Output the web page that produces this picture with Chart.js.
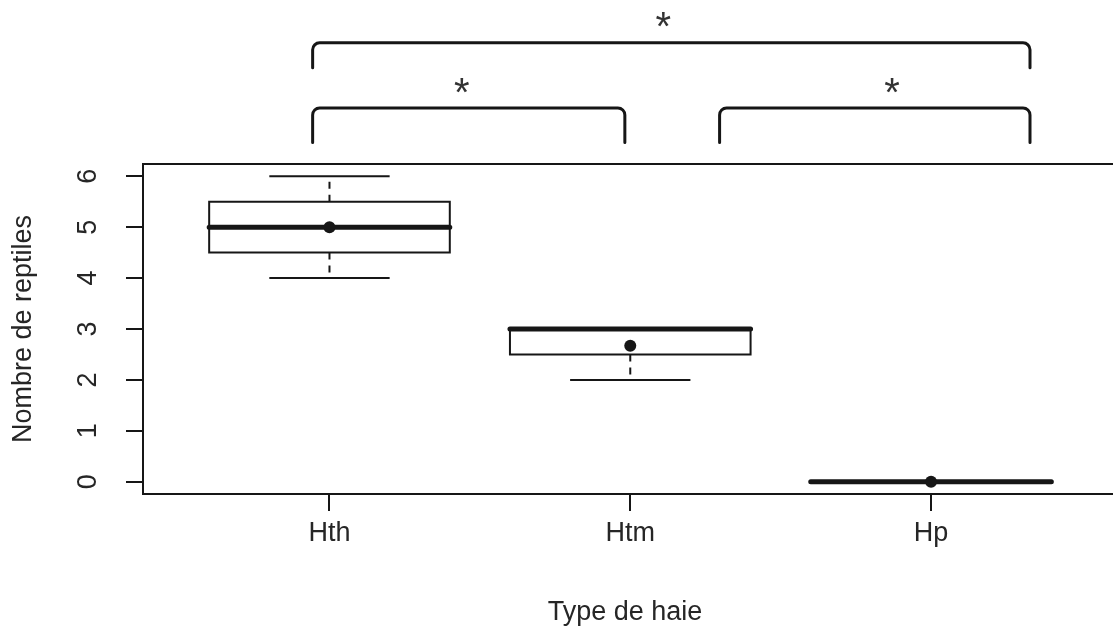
<!DOCTYPE html>
<html>
<head>
<meta charset="utf-8">
<title>Nombre de reptiles par type de haie</title>
<script src="https://cdn.jsdelivr.net/npm/chart.js"></script>
<style>
  html, body { margin: 0; padding: 0; background: #fff; }
  #wrap { width: 1113px; height: 630px; }
</style>
</head>
<body>
<div id="wrap"><canvas id="chart" width="1113" height="630"></canvas></div>
<script>
// Statistiques des boîtes
const categories = ['Hth', 'Htm', 'Hp'];
const whiskerLow = [4, 2, 0];
const q1 = [4.5, 2.5, 0];
const median = [5, 3, 0];
const q3 = [5.5, 3, 0];
const whiskerHigh = [6, 3, 0];
const means = [5, 2.67, 0];

const yTicks = [0, 1, 2, 3, 4, 5, 6];

// Crochets de comparaison (unités des axes, au-dessus du graphe)
const bracketFrom = [0.944, 0.944, 2.297];
const bracketTo = [3.329, 1.982, 3.329];
const bracketTop = [8.62, 7.34, 7.34];
const bracketLeg = [8.13, 6.66, 6.66];
const starText = ['*', '*', '*'];
const starX = [2.11, 1.44, 2.87];
const starY = [9.13, 7.84, 7.84];

const FONT = "'Liberation Sans', Arial, sans-serif";
const INK = '#161616';
const TEXT = '#262626';
const BOX_HALF = 0.4;
const CAP_HALF = 0.2;

// points des segments ; y: null coupe la ligne
const gap = x => ({ x, y: null });
const boxPts = [], whiskerPts = [], capPts = [], medianPts = [];
categories.forEach((c, i) => {
  const x = i + 1;
  boxPts.push(
    { x: x - BOX_HALF, y: q1[i] }, { x: x + BOX_HALF, y: q1[i] },
    { x: x + BOX_HALF, y: q3[i] }, { x: x - BOX_HALF, y: q3[i] },
    { x: x - BOX_HALF, y: q1[i] }, gap(x)
  );
  if (whiskerHigh[i] > q3[i]) whiskerPts.push({ x, y: q3[i] }, { x, y: whiskerHigh[i] }, gap(x));
  if (whiskerLow[i] < q1[i]) whiskerPts.push({ x, y: q1[i] }, { x, y: whiskerLow[i] }, gap(x));
  capPts.push(
    { x: x - CAP_HALF, y: whiskerHigh[i] }, { x: x + CAP_HALF, y: whiskerHigh[i] }, gap(x),
    { x: x - CAP_HALF, y: whiskerLow[i] }, { x: x + CAP_HALF, y: whiskerLow[i] }, gap(x)
  );
  medianPts.push({ x: x - BOX_HALF, y: median[i] }, { x: x + BOX_HALF, y: median[i] }, gap(x));
});
const meanPts = means.map((m, i) => ({ x: i + 1, y: m }));

const lineSet = (data, extra) => Object.assign({
  data,
  borderColor: INK,
  borderWidth: 2,
  pointRadius: 0,
  tension: 0,
  fill: false,
  spanGaps: false,
  borderCapStyle: 'square'
}, extra);

// cadre, étiquettes de l'axe y et crochets
const annotations = {
  id: 'annotations',
  afterDraw(chart) {
    const { ctx, chartArea: a, scales: { x, y } } = chart;
    ctx.save();
    ctx.strokeStyle = INK;
    ctx.lineWidth = 2;
    ctx.beginPath();
    ctx.moveTo(a.right + 6, a.top);
    ctx.lineTo(a.left, a.top);
    ctx.lineTo(a.left, a.bottom);
    ctx.lineTo(a.right + 6, a.bottom);
    ctx.stroke();

    ctx.fillStyle = TEXT;
    ctx.font = `27px ${FONT}`;
    ctx.textAlign = 'center';
    ctx.textBaseline = 'middle';
    yTicks.forEach(v => {
      ctx.save();
      ctx.translate(88, y.getPixelForValue(v));
      ctx.rotate(-Math.PI / 2);
      ctx.fillText(String(v), 0, 1);
      ctx.restore();
    });

    ctx.lineWidth = 3;
    ctx.lineJoin = 'round';
    ctx.lineCap = 'round';
    const r = 7;
    bracketFrom.forEach((f, i) => {
      const x1 = x.getPixelForValue(f);
      const x2 = x.getPixelForValue(bracketTo[i]);
      const yt = y.getPixelForValue(bracketTop[i]);
      const yl = y.getPixelForValue(bracketLeg[i]);
      ctx.beginPath();
      ctx.moveTo(x1, yl);
      ctx.arcTo(x1, yt, x2, yt, r);
      ctx.arcTo(x2, yt, x2, yl, r);
      ctx.lineTo(x2, yl);
      ctx.stroke();
    });

    ctx.font = `40px ${FONT}`;
    ctx.textBaseline = 'alphabetic';
    ctx.fillStyle = '#333';
    starText.forEach((s, i) => {
      ctx.fillText(s, x.getPixelForValue(starX[i]), y.getPixelForValue(starY[i]) + 23);
    });
    ctx.restore();
  }
};

new Chart(document.getElementById('chart'), {
  type: 'line',
  data: {
    datasets: [
      { data: meanPts, showLine: false, pointRadius: 6, pointHoverRadius: 6,
        pointBackgroundColor: INK, pointBorderWidth: 0 },
      lineSet(medianPts, { borderWidth: 5, borderCapStyle: 'round' }),
      lineSet(capPts, { borderCapStyle: 'butt' }),
      lineSet(whiskerPts, { borderDash: [7, 6], borderCapStyle: 'butt' }),
      lineSet(boxPts)
    ]
  },
  plugins: [annotations],
  options: {
    responsive: false,
    animation: false,
    events: [],
    layout: { padding: { top: 164, right: 0, left: 0, bottom: 0 } },
    plugins: {
      legend: { display: false },
      tooltip: { enabled: false }
    },
    scales: {
      x: {
        type: 'linear',
        min: 0.38,
        max: 3.585,
        afterBuildTicks: s => { s.ticks = categories.map((c, i) => ({ value: i + 1 })); },
        afterFit: s => { s.height = 136; },
        ticks: {
          callback: v => categories[Math.round(v) - 1],
          font: { family: FONT, size: 27 },
          color: TEXT,
          padding: 6,
          autoSkip: false,
          maxRotation: 0
        },
        grid: { drawOnChartArea: false, tickLength: 17, lineWidth: 2, color: INK },
        border: { display: false },
        title: {
          display: true,
          text: 'Type de haie',
          font: { family: FONT, size: 27 },
          color: TEXT,
          padding: { top: 0, bottom: 1 }
        }
      },
      y: {
        type: 'linear',
        min: -0.24,
        max: 6.24,
        afterBuildTicks: s => { s.ticks = yTicks.map(v => ({ value: v })); },
        afterFit: s => { s.width = 143; },
        ticks: { display: false },
        grid: { drawOnChartArea: false, tickLength: 17, lineWidth: 2, color: INK },
        border: { display: false },
        title: {
          display: true,
          text: 'Nombre de reptiles',
          font: { family: FONT, size: 27 },
          color: TEXT,
          padding: { top: 7, bottom: 7 }
        }
      }
    }
  }
});
</script>
</body>
</html>
